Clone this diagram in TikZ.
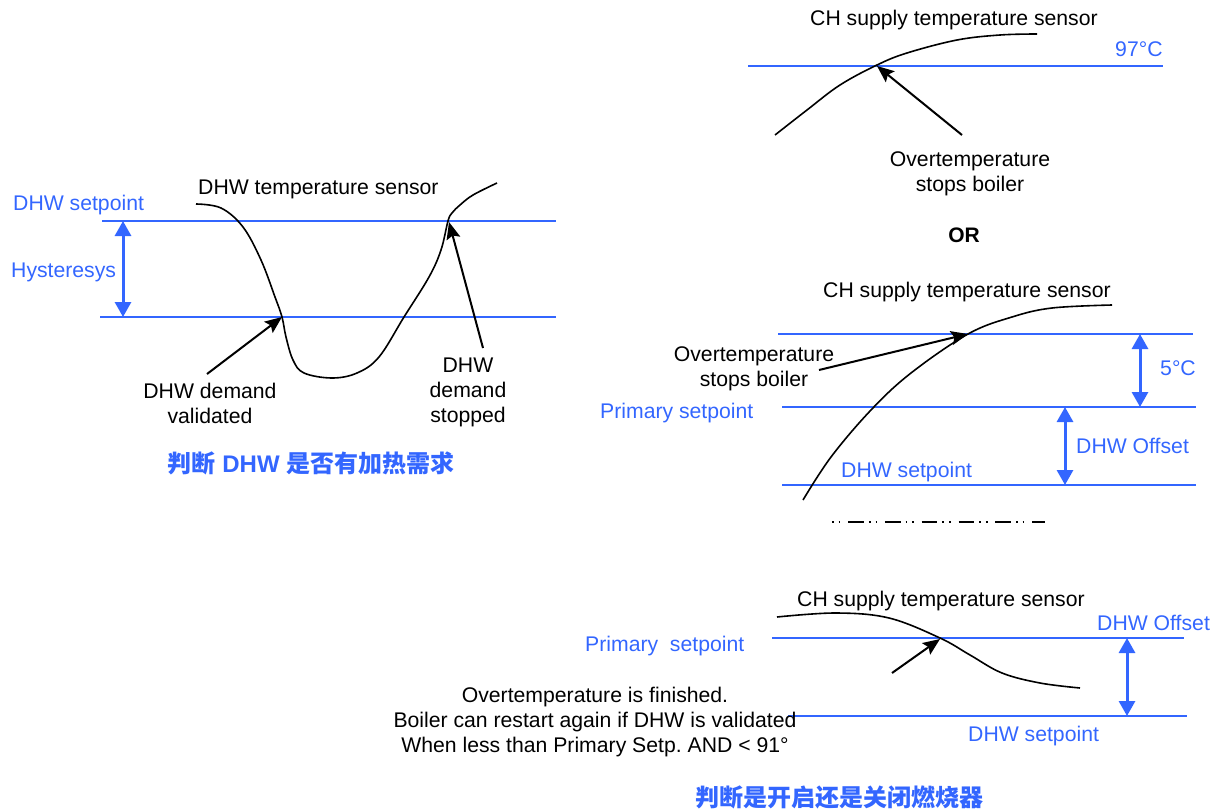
\documentclass[tikz,border=0pt]{standalone}
\usepackage{fontspec}
\setmainfont{Liberation Sans}
\newfontfamily\cjk{Noto Sans CJK SC}
\usetikzlibrary{arrows.meta}
\definecolor{sblue}{RGB}{51,102,255}
\frenchspacing
\begin{document}
\begin{tikzpicture}[x=1pt,y=-1pt,
  lvl/.style={draw=sblue, line width=1.5pt},
  dbl/.style={draw=sblue, line width=3pt, {Triangle[length=15pt,width=16pt]}-{Triangle[length=15pt,width=16pt]}},
  ptr/.style={draw=black, line width=2pt, -{Stealth[length=17pt,width=14pt,inset=3pt]}},
  sensor/.style={draw=black, line width=1.6pt},
  lbl/.style={font=\fontsize{21.2}{25}\selectfont, inner sep=0pt, anchor=mid west, yshift=-3pt},
  blbl/.style={lbl, text=sblue},
  note/.style={font=\fontsize{21.2}{25}\selectfont, inner sep=0pt, anchor=north, align=center},
  cn/.style={font=\fontsize{24}{28}\selectfont\bfseries, text=sblue, inner sep=0pt},
  dotdash/.style={draw=black, line width=2pt, dash pattern=on 1.7pt off 5pt on 1.7pt off 7.7pt on 15.7pt off 5pt}
]
\useasboundingbox (0,0) rectangle (1221,811);

% ---------------- left panel ----------------
\coordinate (L1a) at (102,221); \coordinate (L1b) at (556,221);
\coordinate (L2a) at (100,317); \coordinate (L2b) at (556,317);
\draw[lvl] (L1a) -- (L1b);
\draw[lvl] (L2a) -- (L2b);
\coordinate (H1) at (123,221); \coordinate (H2) at (123,317);
\draw[dbl] (H1) -- (H2);
\node[blbl] (dhwsp) at (13,205) {DHW setpoint};
\node[blbl] (hyst) at (11,272) {Hysteresys};
\node[lbl] (dhwts) at (198,189) {DHW temperature sensor};
\draw[sensor] plot[smooth, tension=0.6] coordinates {(196,204) (221,208) (243,227) (261,260) (275,297) (282,317) (286,337) (293,360) (304,373) (332,378) (357,373) (379,357) (404,317) (429,277) (441,250) (448,221) (452,213) (460,205) (473,195) (497,183)};
\coordinate (valT) at (207,374); \coordinate (valH) at (282,317);
\coordinate (stpT) at (483,348); \coordinate (stpH) at (449,222);
\draw[ptr] (valT) -- (valH);
\draw[ptr] (stpT) -- (stpH);
\node[note] (val) at (210,383) {DHW demand\\validated};
\node[note] (stp) at (468,358) {DHW\\demand\\stopped};
\node[cn] (cn1) at (311,463) {{\cjk 判断} DHW {\cjk 是否有加热需求}};

% ---------------- right top ----------------
\coordinate (T1a) at (748,66); \coordinate (T1b) at (1163,66);
\draw[lvl] (T1a) -- (T1b);
\node[lbl] (chs1) at (810,20) {CH supply temperature sensor};
\node[blbl] (t97) at (1115,51) {97°C};
\draw[sensor] plot[smooth, tension=0.6] coordinates {(775,135) (807,110) (840,85) (877,65) (907,53) (957,40) (1000,35) (1037,34)};
\coordinate (o1T) at (962,135); \coordinate (o1H) at (877,66);
\draw[ptr] (o1T) -- (o1H);
\node[note] (ot1) at (970,151) {Overtemperature\\stops boiler};
\node[font=\fontsize{21}{25}\selectfont\bfseries, inner sep=0pt] (or) at (964,235) {OR};

% ---------------- right middle ----------------
\coordinate (M1a) at (778,334); \coordinate (M1b) at (1193,334);
\coordinate (M2a) at (782,407); \coordinate (M2b) at (1196,407);
\coordinate (M3a) at (782,485); \coordinate (M3b) at (1196,485);
\draw[lvl] (M1a) -- (M1b);
\draw[lvl] (M2a) -- (M2b);
\draw[lvl] (M3a) -- (M3b);
\coordinate (F1) at (1140,334); \coordinate (F2) at (1140,407);
\draw[dbl] (F1) -- (F2);
\coordinate (G1) at (1065,407); \coordinate (G2) at (1065,485);
\draw[dbl] (G1) -- (G2);
\node[lbl] (chs2) at (823,292) {CH supply temperature sensor};
\draw[sensor] plot[smooth, tension=0.6] coordinates {(803,500) (831,457) (871,410) (911,373) (968,334) (1012,317) (1052,308) (1112,305)};
\coordinate (o2T) at (819,370); \coordinate (o2H) at (968,334);
\draw[ptr] (o2T) -- (o2H);
\node[note] (ot2) at (754,346) {Overtemperature\\stops boiler};
\node[blbl] (five) at (1160,370) {5°C};
\node[blbl] (prim1) at (600,413) {Primary setpoint};
\node[blbl] (off1) at (1076,448) {DHW Offset};
\node[blbl] (dsp1) at (841,472) {DHW setpoint};
\coordinate (D1) at (832,522); \coordinate (D2) at (1045,522);
\draw[dotdash] (D1) -- (D2);

% ---------------- bottom ----------------
\coordinate (B1a) at (772,638); \coordinate (B1b) at (1184,638);
\coordinate (B2a) at (788,716); \coordinate (B2b) at (1187,716);
\draw[lvl] (B1a) -- (B1b);
\draw[lvl] (B2a) -- (B2b);
\coordinate (K1) at (1127,638); \coordinate (K2) at (1127,716);
\draw[dbl] (K1) -- (K2);
\node[lbl] (chs3) at (797,601) {CH supply temperature sensor};
\draw[sensor] plot[smooth, tension=0.6] coordinates {(777,617) (836,613) (889,618) (940,638) (970,655) (1002,673) (1040,683) (1080,688)};
\coordinate (o3T) at (892,673); \coordinate (o3H) at (940,639);
\draw[ptr] (o3T) -- (o3H);
\node[blbl] (prim2) at (585,646) {Primary\ \ setpoint};
\node[blbl] (off2) at (1097,625) {DHW Offset};
\node[blbl] (dsp2) at (968,736) {DHW setpoint};
\node[note] (fin) at (595,687) {Overtemperature is finished.\\Boiler can restart again if DHW is validated\\When less than Primary Setp. AND < 91°};
\node[cn] (cn2) at (839,797) {\cjk 判断是开启还是关闭燃烧器};
\end{tikzpicture}
\end{document}
